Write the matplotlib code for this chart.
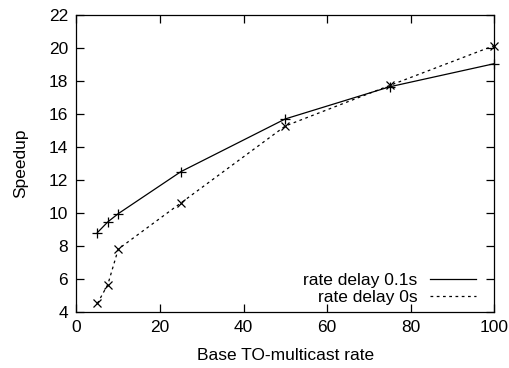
import matplotlib
matplotlib.use("Agg")
import matplotlib.pyplot as plt
from matplotlib.lines import Line2D

plt.rcParams['font.family'] = ['Liberation Sans', 'DejaVu Sans']

rates = [5, 7.5, 10, 25, 50, 75, 100]
speedup_delay01 = [8.8, 9.45, 9.95, 12.5, 15.7, 17.65, 19.05]
speedup_delay0 = [4.5, 5.65, 7.8, 10.6, 15.27, 17.73, 20.15]
labels = ["rate delay 0.1s", "rate delay 0s"]

FS = 12.5
dash = (0, (2.2, 2.8))

fig = plt.figure(figsize=(5.1, 3.68), dpi=100)
ax = fig.add_axes([0.150, 0.153, 0.819, 0.806])

ax.plot(rates, speedup_delay01, color="black", linewidth=0.9, clip_on=False,
        marker="+", markersize=7, markeredgewidth=0.9)
ax.plot(rates, speedup_delay0, color="black", linewidth=0.9, clip_on=False,
        linestyle=dash, marker="x", markersize=6, markeredgewidth=0.9)

ax.set_xlim(0, 100)
ax.set_ylim(4, 22)
ax.set_xticks(range(0, 101, 20))
ax.set_yticks(range(4, 23, 2))
ax.tick_params(direction="in", length=6, width=0.9, top=True, right=True,
               labelsize=FS, pad=6)
for s in ax.spines.values():
    s.set_linewidth(0.9)

ax.set_xlabel("Base TO-multicast rate", fontsize=FS, labelpad=9)
ax.set_ylabel("Speedup", fontsize=FS, labelpad=15)

handles = [Line2D([], [], color="black", linewidth=0.9),
           Line2D([], [], color="black", linewidth=0.9, linestyle=dash)]
ax.legend(handles, labels, loc="lower right", frameon=False, markerfirst=False,
          fontsize=FS, handlelength=2.7, handletextpad=0.7, labelspacing=0.1,
          borderaxespad=0.0, bbox_to_anchor=(0.974, 0.0))

fig.savefig("out.png", dpi=100)
